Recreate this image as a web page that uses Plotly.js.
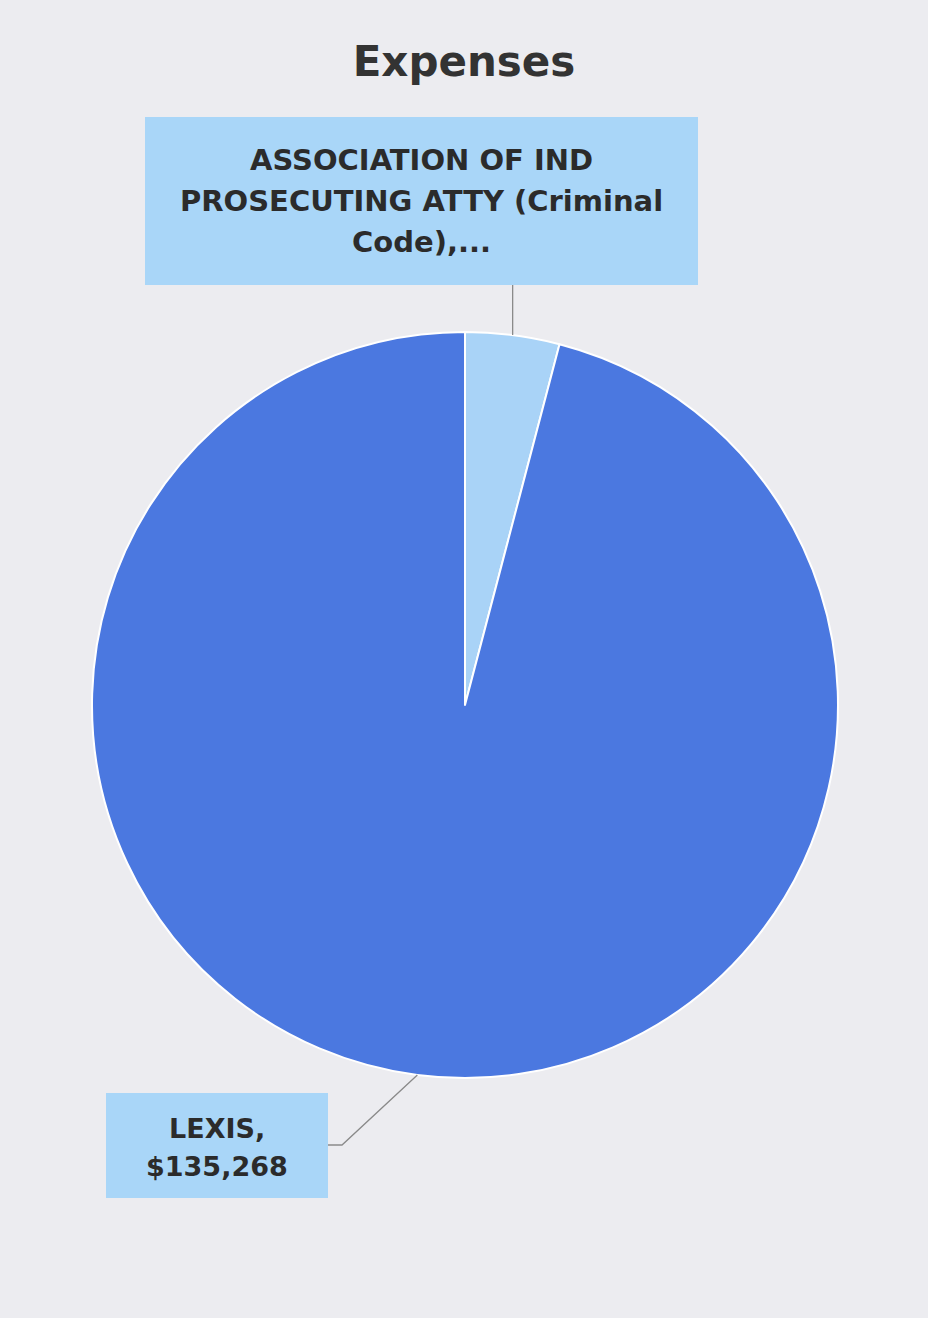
<!DOCTYPE html>
<html><head><meta charset="utf-8">
<script src="https://cdn.plot.ly/plotly-3.0.1.min.js"></script>
<style>html,body{margin:0;padding:0;background:#ececf0;}</style>
</head><body>
<div id="chart" style="width:928px;height:1318px;"></div>
<script>
const categories = ["ASSOCIATION OF IND PROSECUTING ATTY (Criminal Code)", "LEXIS"];
const values = [5750, 135268];
const sliceColors = ["#a9d3f7", "#4b78e0"];
const labelLines = [["ASSOCIATION OF IND", "PROSECUTING ATTY (Criminal", "Code),..."], ["LEXIS,", "$135,268"]];

const W = 928, H = 1318;
const cx = 465, cy = 705, R = 373;
const dom = {x: [(cx - R) / W, (cx + R) / W], y: [1 - (cy + R) / H, 1 - (cy - R) / H]};

const total = values.reduce((a, b) => a + b, 0);
let acc = 0;
const mids = values.map(v => { const m = (acc + v / 2) / total * 2 * Math.PI; acc += v; return m; });
const edge = m => [cx + R * Math.sin(m), cy - R * Math.cos(m)];
const px = x => x / W, py = y => 1 - y / H;

const e0 = edge(mids[0]);
const e1 = edge(mids[1]);

const font = "'DejaVu Sans', Verdana, sans-serif";
const boxColor = "#a9d6f8";
// label boxes: [x0, y0, x1, y1, firstLineY, lineGap, fontSize]
const boxes = [[145, 117, 698, 285, 160, 41, 29], [106, 1093, 328, 1198, 1128, 38, 27]];

const annotations = [];
const shapes = [];
boxes.forEach((b, i) => {
  shapes.push({type: "rect", xref: "paper", yref: "paper", x0: px(b[0]), y0: py(b[3]), x1: px(b[2]), y1: py(b[1]),
               fillcolor: boxColor, line: {width: 0}, layer: "above"});
  labelLines[i].forEach((t, j) => {
    annotations.push({xref: "paper", yref: "paper", x: px((b[0] + b[2]) / 2), y: py(b[4] + j * b[5]),
      xanchor: "center", yanchor: "middle", text: "<b>" + t + "</b>", showarrow: false,
      font: {family: font, size: b[6], color: "#2b2b2b"}});
  });
});
shapes.push({type: "line", xref: "paper", yref: "paper", x0: px(e0[0]), y0: py(285), x1: px(e0[0]), y1: py(e0[1]),
     line: {color: "#8a8a8a", width: 1.3}});
shapes.push({type: "path", xref: "paper", yref: "paper",
     path: "M " + px(328) + " " + py(1145) + " L " + px(342) + " " + py(1145) + " L " + px(e1[0]) + " " + py(e1[1]),
     line: {color: "#8a8a8a", width: 1.3}});

const data = [{
  type: "pie",
  labels: categories,
  values: values,
  sort: false,
  direction: "clockwise",
  rotation: 0,
  marker: {colors: sliceColors, line: {color: "#ffffff", width: 2}},
  textinfo: "none",
  hoverinfo: "label+value",
  domain: dom,
  showlegend: false
}];

const layout = {
  width: W, height: H,
  margin: {l: 0, r: 0, t: 0, b: 0},
  paper_bgcolor: "#ececf0",
  plot_bgcolor: "#ececf0",
  showlegend: false,
  title: {text: "<b>Expenses</b>", x: 0.5, xanchor: "center", y: 1 - 61 / H, yanchor: "middle",
          font: {family: font, size: 42, color: "#333333"}},
  annotations: annotations,
  shapes: shapes
};

Plotly.newPlot("chart", data, layout, {displayModeBar: false, staticPlot: true});
</script>
</body></html>
